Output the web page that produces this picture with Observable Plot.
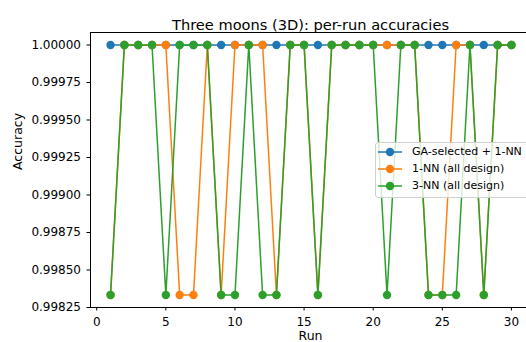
<!DOCTYPE html>
<html>
<head>
<meta charset="utf-8">
<script src="https://cdn.jsdelivr.net/npm/d3@7"></script>
<script src="https://cdn.jsdelivr.net/npm/@observablehq/plot@0.6"></script>
<style>
  html, body { margin: 0; padding: 0; background: #fff; overflow: hidden; }
  #wrap { position: relative; width: 526px; height: 342px; overflow: hidden; font-family: "DejaVu Sans", sans-serif; }
  #legend { position: absolute; left: 375px; top: 142px; width: 160px; height: 56px;
    background: rgba(255,255,255,0.8); border: 1px solid #d0d0d0; border-radius: 3px; box-sizing: border-box; }
  .item { position: absolute; left: 0; height: 16px; font-size: 11px; color: #000; white-space: nowrap; }
  .item svg { position: absolute; left: 2px; top: 0; }
  .item span { position: absolute; left: 36px; top: 0; line-height: 16px; }
</style>
</head>
<body>
<div id="wrap"></div>
<script>
const runs = [1,2,3,4,5,6,7,8,9,10,11,12,13,14,15,16,17,18,19,20,21,22,23,24,25,26,27,28,29,30];
const gaSelected1NN = [1,1,1,1,1,1,1,1,1,1,1,1,1,1,1,1,1,1,1,1,1,1,1,1,1,1,1,1,1,1];
const nn1AllDesign = [0.998333,1,1,1,1,0.998333,0.998333,1,0.998333,1,1,1,0.998333,1,1,0.998333,1,1,1,1,1,1,1,0.998333,0.998333,1,1,0.998333,1,1];
const nn3AllDesign = [0.998333,1,1,1,0.998333,1,1,1,0.998333,0.998333,1,0.998333,0.998333,1,1,0.998333,1,1,1,1,0.998333,1,1,0.998333,0.998333,0.998333,1,0.998333,1,1];
const seriesNames = ["GA-selected + 1-NN", "1-NN (all design)", "3-NN (all design)"];
const seriesColors = ["#1f77b4", "#ff7f0e", "#2ca02c"];
const yTicks = [0.99825, 0.99850, 0.99875, 0.99900, 0.99925, 0.99950, 0.99975, 1.00000];
const xTicks = [0, 5, 10, 15, 20, 25, 30];

const allSeries = [gaSelected1NN, nn1AllDesign, nn3AllDesign];
const rows = [];
allSeries.forEach((vals, s) => runs.forEach((r, i) => rows.push({run: r, acc: vals[i], series: seriesNames[s]})));

const yMin = 0.99825, yMax = 1.0000833;
const font = "DejaVu Sans, sans-serif";

const lineMarks = seriesNames.flatMap((name, s) => {
  const d = rows.filter(r => r.series === name);
  return [
    Plot.line(d, {x: "run", y: "acc", stroke: seriesColors[s], strokeWidth: 1.5}),
    Plot.dot(d, {x: "run", y: "acc", fill: seriesColors[s], r: 4.2, stroke: "none"})
  ];
});

const chart = Plot.plot({
  width: 526,
  height: 342,
  marginLeft: 90,
  marginRight: 0,
  marginTop: 32,
  marginBottom: 35,
  style: {fontFamily: font, fontSize: "12px", color: "#000", background: "#fff"},
  x: {domain: [-0.45, 31.09]},
  y: {domain: [yMin, yMax]},
  marks: [
    ...lineMarks,
    Plot.ruleY([yMin, yMax], {stroke: "#000", strokeWidth: 1}),
    Plot.ruleX([-0.45], {stroke: "#000", strokeWidth: 1}),
    Plot.axisX({ticks: xTicks, tickSize: 3.5, tickPadding: 6, label: null, fontSize: 12, tickFormat: d => String(d)}),
    Plot.axisY({ticks: yTicks, tickSize: 3.5, tickPadding: 6, label: null, fontSize: 12, tickFormat: d => d.toFixed(5)}),
    Plot.text(["Three moons (3D): per-run accuracies"], {frameAnchor: "top", dy: -13, dx: 2, text: d => d, fontSize: 14.6, fill: "#000"}),
    Plot.text(["Run"], {frameAnchor: "bottom", dy: 32.5, dx: 2, text: d => d, fontSize: 12.5, fill: "#000"}),
    Plot.text(["Accuracy"], {frameAnchor: "left", dx: -73, rotate: -90, text: d => d, fontSize: 12.5, fill: "#000"})
  ]
});

const wrap = document.getElementById("wrap");
wrap.appendChild(chart);

const legend = document.createElement("div");
legend.id = "legend";
seriesNames.forEach((name, s) => {
  const item = document.createElement("div");
  item.className = "item";
  item.style.top = (0.5 + s * 17.3) + "px";
  item.innerHTML = `<svg width="30" height="16"><line x1="0" x2="24" y1="8" y2="8" stroke="${seriesColors[s]}" stroke-width="1.5"/><circle cx="12" cy="8" r="4.2" fill="${seriesColors[s]}"/></svg><span></span>`;
  item.querySelector("span").textContent = name;
  legend.appendChild(item);
});
wrap.appendChild(legend);
</script>
</body>
</html>
